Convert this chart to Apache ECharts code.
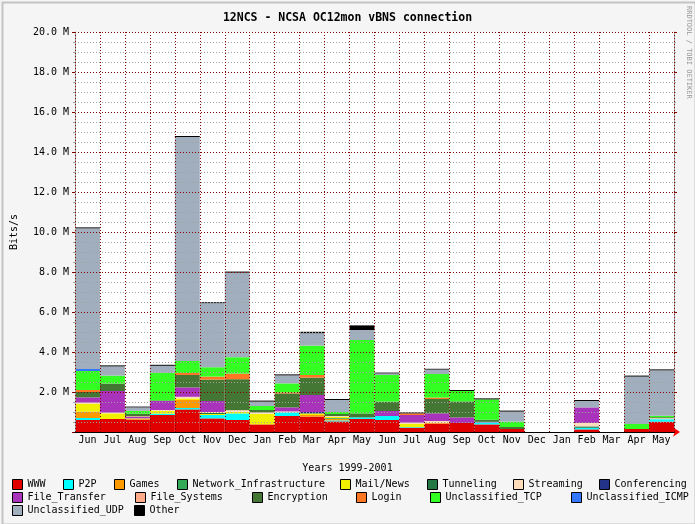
<!DOCTYPE html>
<html>
<head>
<meta charset="utf-8">
<script src="https://cdn.jsdelivr.net/npm/echarts@6/dist/echarts.min.js"></script>
<style>
html,body{margin:0;padding:0;background:#f5f5f5;}
#chart{width:695px;height:524px;}
</style>
</head>
<body>
<div id="chart"></div>
<script>
// Categories: months from Jun 1999 to May 2001
const months = ['Jun','Jul','Aug','Sep','Oct','Nov','Dec','Jan','Feb','Mar','Apr','May',
                'Jun','Jul','Aug','Sep','Oct','Nov','Dec','Jan','Feb','Mar','Apr','May'];

// Values in M bits/s
const WWW        = [0.60,0.65,0.62,0.85,1.13,0.68,0.60,0.38,0.80,0.77,0.53,0.65,0.60,0.22,0.42,0.45,0.38,0.15,0,0,0.13,0,0.15,0.52];
const P2P        = [0.10,0,0,0.07,0.07,0.17,0.33,0,0.18,0,0.05,0.08,0.20,0.03,0,0,0.10,0,0,0,0.08,0,0,0.12];
const Games      = [0.32,0,0.03,0,0.40,0,0,0,0,0.08,0.08,0,0,0,0.05,0,0,0,0,0,0,0,0,0];
const NetInfra   = [0,0,0,0,0,0,0,0,0,0,0.04,0,0,0,0,0,0,0,0,0,0,0,0,0];
const MailNews   = [0.38,0.28,0.03,0.13,0.08,0.05,0.08,0.53,0,0.08,0.05,0,0,0.15,0,0,0,0,0,0,0,0,0,0];
const Tunneling  = [0,0,0,0,0,0.05,0,0,0,0,0,0,0,0,0,0,0,0,0,0,0.07,0,0,0];
const Streaming  = [0.07,0.04,0,0.05,0.08,0.05,0.08,0.07,0.05,0,0.05,0,0,0.07,0.08,0,0,0,0,0,0.17,0,0,0.05];
const Conferencing=[0,0,0,0,0,0,0,0,0,0.07,0,0,0,0,0,0,0,0,0,0,0,0,0,0];
const FileTransfer=[0.26,1.08,0.08,0.45,0.47,0.55,0,0,0.20,0.85,0,0,0.25,0.38,0.38,0.28,0.03,0,0,0,0.78,0,0,0];
const FileSystems= [0,0,0.03,0,0,0,0,0,0,0,0,0,0,0,0,0,0,0,0,0,0,0,0,0];
const Encryption = [0.27,0.37,0.12,0.03,0.62,1.07,1.55,0.12,0.70,0.87,0.10,0.20,0.47,0,0.72,0.80,0.10,0.10,0,0,0,0,0,0.05];
const Login      = [0.10,0,0,0,0.10,0.15,0.28,0,0.05,0.13,0,0,0,0.08,0.07,0,0,0,0,0,0,0,0,0];
const UnclTCP    = [0.95,0.40,0.15,1.38,0.60,0.47,0.82,0.20,0.45,1.47,0.10,3.67,1.33,0,1.18,0.52,1.02,0.27,0,0,0,0,0.25,0.07];
const UnclICMP   = [0.10,0,0,0,0,0,0,0,0,0,0,0,0,0,0,0,0,0,0,0,0,0,0,0];
const UnclUDP    = [7.03,0.46,0.17,0.35,11.20,3.20,4.23,0.22,0.40,0.62,0.60,0.50,0.08,0,0.22,0,0,0.50,0,0,0.32,0,2.37,2.27];
const Other      = [0.05,0.05,0.04,0.05,0.05,0.05,0.05,0.05,0.05,0.07,0.05,0.23,0.04,0.05,0.04,0.05,0.05,0.05,0,0,0.05,0,0.05,0.05];

// Y tick labels every 2 M
const yTicks = [0,2,4,6,8,10,12,14,16,18,20];

const seriesNames = ['WWW','P2P','Games','Network_Infrastructure','Mail/News','Tunneling','Streaming','Conferencing',
  'File_Transfer','File_Systems','Encryption','Login','Unclassified_TCP','Unclassified_ICMP','Unclassified_UDP','Other'];
const seriesData = [WWW,P2P,Games,NetInfra,MailNews,Tunneling,Streaming,Conferencing,
  FileTransfer,FileSystems,Encryption,Login,UnclTCP,UnclICMP,UnclUDP,Other];
const seriesColors = ['#e00000','#00ffff','#ff9900','#33aa55','#f0f000','#227744','#ffddbb','#223388',
  '#aa33bb','#ffaa88','#447733','#ff7722','#33ff22','#3377ff','#a0aebd','#000000'];

// legend layout (pixel positions)
const legendLeft = [12,63,114,177,340,427,513,599, 12,135,252,356,430,571, 12,134];
const legendTop  = [479,479,479,479,479,479,479,479, 492,492,492,492,492,492, 505,505];

const FONT = 'DejaVu Sans Mono';
const DARKRED = '#800000';

const chart = echarts.init(document.getElementById('chart'), null, {renderer:'canvas'});

const option = {
  animation: false,
  backgroundColor: '#f5f5f5',
  title: [
    {text: '12NCS - NCSA OC12mon vBNS connection', left: 'center', top: 7,
     textStyle: {fontFamily: FONT, fontSize: 11.5, fontWeight: 'bold', color: '#000'}},
    {text: 'Years 1999-2001', left: 'center', top: 458,
     textStyle: {fontFamily: FONT, fontSize: 10, fontWeight: 'normal', color: '#000'}}
  ],
  graphic: [
    {type: 'rect', left: 0, top: 0, z: -1, shape: {width: 693, height: 522},
     style: {fill: 'none', stroke: '#c4c4c4', lineWidth: 2}},
    {type: 'text', x: 692, y: 6, rotation: -Math.PI/2, z: 10,
     style: {text: 'RRDTOOL / TOBI OETIKER', font: '7px ' + FONT, fill: '#999', textAlign: 'left', textVerticalAlign: 'top'}}
  ],
  legend: seriesNames.map((n, i) => ({
    data: [n], left: legendLeft[i], top: legendTop[i], padding: 0,
    icon: 'rect', itemWidth: 10, itemHeight: 10,
    itemStyle: {borderColor: '#000', borderWidth: 1},
    textStyle: {fontFamily: FONT, fontSize: 10, color: '#000'},
    selectedMode: false
  })),
  grid: {left: 75, right: 21, top: 32, bottom: 92, show: true, backgroundColor: '#ffffff', borderWidth: 0},
  xAxis: [
    {type: 'category', data: months, boundaryGap: true, z: 4,
     axisLine: {show: true, lineStyle: {color: '#000', width: 1}},
     axisTick: {show: false},
     axisLabel: {interval: 0, fontFamily: FONT, fontSize: 10, color: '#000', margin: 3},
     splitLine: {show: true, interval: 0, lineStyle: {color: DARKRED, type: [1, 2], width: 1}}},
    {type: 'category', data: months, position: 'bottom', z: 3,
     axisLine: {show: true, symbol: ['none', 'arrow'], symbolSize: [7, 7], symbolOffset: [0, 6],
                lineStyle: {color: '#ff0000', width: 1}},
     axisTick: {show: false}, axisLabel: {show: false}, splitLine: {show: false}}
  ],
  yAxis: [
    {type: 'value', min: 0, max: 20, interval: 2, z: 3,
     name: 'Bits/s', nameLocation: 'middle', nameGap: 56, nameRotate: 90,
     nameTextStyle: {fontFamily: FONT, fontSize: 10, color: '#000'},
     axisLine: {show: true, lineStyle: {color: '#a0a0a0'}},
     axisTick: {show: true, length: 3, lineStyle: {color: DARKRED}},
     minorTick: {show: true, splitNumber: 4, length: 2, lineStyle: {color: '#a0a0a0'}},
     axisLabel: {fontFamily: FONT, fontSize: 10, color: '#000', margin: 6,
                 formatter: v => yTicks.indexOf(v) > 0 ? v.toFixed(1) + ' M' : ''},
     splitLine: {show: true, lineStyle: {color: DARKRED, type: [1, 2], width: 1}},
     minorSplitLine: {show: true, lineStyle: {color: '#a0a0a0', type: [1, 2], width: 1}}},
    {type: 'value', min: 0, max: 20, interval: 2, position: 'right', z: 3,
     axisLine: {show: true, lineStyle: {color: '#a0a0a0'}},
     axisTick: {show: true, length: 3, lineStyle: {color: DARKRED}},
     minorTick: {show: true, splitNumber: 4, length: 2, lineStyle: {color: '#a0a0a0'}},
     axisLabel: {show: false}, splitLine: {show: false}}
  ],
  series: seriesNames.map((n, i) => ({
    name: n, type: 'bar', stack: 'total', data: seriesData[i],
    xAxisIndex: 0, yAxisIndex: 0,
    barCategoryGap: '0%', barGap: '0%',
    itemStyle: {color: seriesColors[i]},
    emphasis: {disabled: true}, silent: true
  }))
};
chart.setOption(option);
</script>
</body>
</html>
